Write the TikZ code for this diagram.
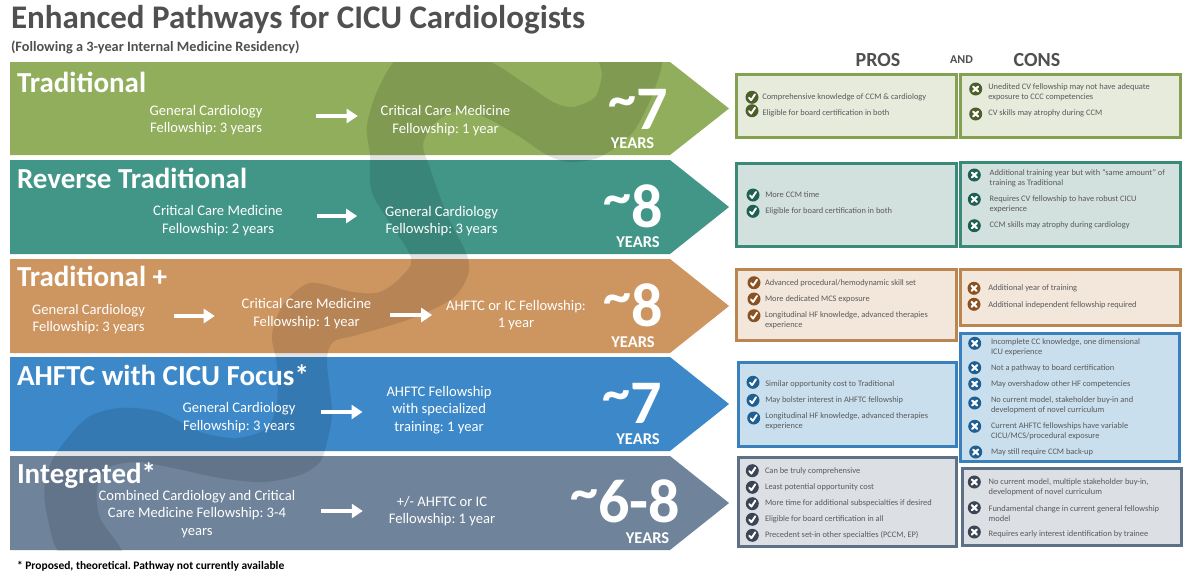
\documentclass[tikz,border=0pt]{standalone}
\usepackage{fontspec}
\setmainfont{Carlito}
\usetikzlibrary{arrows.meta}
\frenchspacing
\definecolor{gA}{HTML}{90AE5B}\definecolor{tA}{HTML}{429688}\definecolor{oA}{HTML}{CD9560}\definecolor{bA}{HTML}{3C88C8}\definecolor{sA}{HTML}{6F839A}
\definecolor{gF}{HTML}{E6EBDC}\definecolor{tF}{HTML}{D2E1DE}\definecolor{oF}{HTML}{F3E7DC}\definecolor{bF}{HTML}{C9DFEE}\definecolor{sF}{HTML}{DCDFE3}
\definecolor{gB}{HTML}{84A152}\definecolor{tB}{HTML}{3A8A7A}\definecolor{oB}{HTML}{BA8650}\definecolor{bB}{HTML}{3A80BB}\definecolor{sB}{HTML}{5E7085}
\definecolor{gD}{HTML}{4C5F2A}\definecolor{tD}{HTML}{1F6055}\definecolor{oD}{HTML}{8A5222}\definecolor{bD}{HTML}{1F5F92}\definecolor{sD}{HTML}{3A4655}
\definecolor{ink}{HTML}{505050}\definecolor{small}{HTML}{5A5A5A}
\newcommand{\tld}{\raisebox{11.5pt}{\fontsize{56}{56}\selectfont\char`~}}
\tikzset{
 x=1pt,y=-1pt,
 every node/.style={inner sep=0pt,outer sep=0pt},
 bandtitle/.style={anchor=base west,text=white,font=\bfseries\fontsize{29}{30}\selectfont},
 stage/.style={text=white,align=center,font=\fontsize{14.6}{17.6}\selectfont},
 big/.style={anchor=base east,text=white,font=\bfseries\fontsize{62}{62}\selectfont},
 yrs/.style={text=white,font=\bfseries\fontsize{16.5}{16.5}\selectfont},
 flow/.style={draw=white,line width=3.6pt,-{Triangle[width=14pt,length=11pt]}},
 box/.style={line width=3pt},
 item/.style={anchor=west,align=left,text=small,font=\fontsize{8.4}{10}\selectfont},
 head/.style={text=ink,font=\bfseries\fontsize{20}{20}\selectfont},
 yes/.pic={\fill[#1] (0,0) circle (6.5);
   \draw[white,line width=1.9pt,line cap=round,line join=round] (-3,0.4) -- (-0.9,2.9) -- (3,-3);},
 no/.pic={\fill[#1] (0,0) circle (6.5);
   \draw[white,line width=2.1pt,line cap=round] (-2.5,-2.5) -- (2.5,2.5) (-2.5,2.5) -- (2.5,-2.5);},
}
\newcommand{\chev}[3]{\fill[#3] (10,#1) -- (670,#1) -- (729,{(#1+#2)/2}) -- (670,#2) -- (10,#2) -- cycle;}
\begin{document}
\begin{tikzpicture}
\useasboundingbox (0,0) rectangle (1200,571);
\fill[white] (0,0) rectangle (1200,571);
\node[anchor=base west,text=ink,font=\bfseries\fontsize{33}{35}\selectfont] (title) at (11,28) {Enhanced Pathways for CICU Cardiologists};
\node[anchor=base west,text=ink,font=\bfseries\fontsize{14.3}{16}\selectfont] (sub) at (11,51) {(Following a 3-year Internal Medicine Residency)};
\chev{62}{155}{gA}\chev{160}{254}{tA}\chev{259}{353}{oA}\chev{357}{451}{bA}\chev{456}{550}{sA}
\begin{scope}
\clip (10,62) rectangle (670,550);
\fill[black,opacity=0.11] plot[smooth cycle,tension=0.5] coordinates {
 (405,55) (480,58) (527,85) (553,102) (573,107) (595,97) (602,75) (602,55) (659,55) (655,88) (633,132) (600,157)
 (570,162) (547,155) (517,135) (480,115) (453,112) (433,125) (423,145) (430,168) (447,215) (467,255) (468,275)
 (453,298) (413,318) (357,335) (333,342) (327,362) (332,412) (327,442) (320,462) (300,475) (263,482) (220,478)
 (173,468) (137,462) (107,468) (97,488) (100,518) (122,556) (63,556) (47,515) (45,482) (57,452) (87,418) (120,408)
 (160,412) (200,432) (237,438) (267,428) (277,402) (277,365) (272,335) (283,305) (310,283) (353,292) (380,292)
 (403,275) (410,255) (373,195) (370,155) (367,125) (380,85)};
\end{scope}
% Traditional
\node[bandtitle] (t1) at (17,92) {Traditional};
\node[stage] (a1) at (206,120) {General Cardiology\\Fellowship: 3 years};
\node[stage] (b1) at (445.5,120.5) {Critical Care Medicine\\Fellowship: 1 year};
\draw[flow,shorten <=54pt,shorten >=23pt] ([yshift=4pt]a1.east) -- ([yshift=4pt]a1.east -| b1.west);
\node[big] (n1) at (668,129) {\tld 7};
\node[yrs] (y1) at (632.5,143.5) {YEARS};
% Reverse
\node[bandtitle] (t2) at (17,188) {Reverse Traditional};
\node[stage] (a2) at (218,220.5) {Critical Care Medicine\\Fellowship: 2 years};
\node[stage] (b2) at (441.5,221) {General Cardiology\\Fellowship: 3 years};
\draw[flow,shorten <=34pt,shorten >=28pt] ([yshift=4.5pt]a2.east) -- ([yshift=4.5pt]a2.east -| b2.west);
\node[big] (n2) at (663,227) {\tld 8};
\node[yrs] (y2) at (638,242) {YEARS};
% Traditional +
\node[bandtitle] (t3) at (17,286) {Traditional +};
\node[stage] (a3) at (88.5,319) {General Cardiology\\Fellowship: 3 years};
\node[stage] (b3) at (306.5,313.5) {Critical Care Medicine\\Fellowship: 1 year};
\node[stage] (c3) at (516,315) {AHFTC or IC Fellowship:\\1 year};
\draw[flow,shorten <=29pt,shorten >=27pt] ([yshift=3pt]a3.east) -- ([yshift=3pt]a3.east -| b3.west);
\draw[flow,shorten <=19pt,shorten >=14pt] (b3.east |- c3.center) -- (c3.west);
\node[big] (n3) at (663,326) {\tld 8};
\node[yrs] (y3) at (633,342) {YEARS};
% AHFTC
\node[bandtitle] (t4) at (17,385) {AHFTC with CICU Focus*};
\node[stage] (a4) at (239,417.5) {General Cardiology\\Fellowship: 3 years};
\node[stage] (b4) at (439,410) {AHFTC Fellowship\\with specialized\\training: 1 year};
\draw[flow,shorten <=26pt,shorten >=24pt] (a4.east |- 0,412) -- (b4.west |- 0,412);
\node[big] (n4) at (662,423) {\tld 7};
\node[yrs] (y4) at (638,439) {YEARS};
% Integrated
\node[bandtitle] (t5) at (17,483) {Integrated*};
\node[stage] (a5) at (197,513.7) {Combined Cardiology and Critical\\Care Medicine Fellowship: 3-4\\years};
\node[stage] (b5) at (442,511) {+/- AHFTC or IC\\Fellowship: 1 year};
\draw[flow,shorten <=26pt,shorten >=26pt] (a5.east |- b5.center) -- (b5.west);
\node[big] (n5) at (680,522) {\tld 6-8};
\node[yrs] (y5) at (647.5,537.7) {YEARS};
\node[anchor=west,text=black,font=\bfseries\fontsize{11.5}{12}\selectfont] (foot) at (17,566) {* Proposed, theoretical. Pathway not currently available};
% Heads
\node[head] (pros) at (878,60) {PROS};
\node[text=ink,font=\bfseries\fontsize{12}{12}\selectfont] (and) at (961.5,60) {AND};
\node[head] (cons) at (1037,60) {CONS};
% Boxes
\draw[box,draw=gB,fill=gF] (736,74) rectangle (956,137.5);
\draw[box,draw=gB,fill=gF] (960,74) rectangle (1180,137.5);
\draw[box,draw=tB,fill=tF] (736,163) rectangle (956,246);
\draw[box,draw=tB,fill=tF] (960,162) rectangle (1180,246);
\draw[box,draw=oB,fill=oF] (736,269) rectangle (956,340);
\draw[box,draw=oB,fill=oF] (960,269) rectangle (1180,325);
\draw[box,draw=bB,fill=bF] (738,362) rectangle (956,446);
\draw[box,draw=bB,fill=bF] (960,333) rectangle (1179,461);
\draw[box,draw=sB,fill=sF] (738,457) rectangle (956,546);
\draw[box,draw=sB,fill=sF] (962,468) rectangle (1181,545);
% green
\pic at (752,97.3) {yes=gD};\node[item] (p11) at (762.3,97.7) {Comprehensive knowledge of CCM \& cardiology};
\pic at (752,110.7) {yes=gD};\node[item] (p12) at (762.5,113) {Eligible for board certification in both};
\pic at (975.7,89) {no=gD};\node[item] (c11) at (988.3,92.5) {Unedited CV fellowship may not have adequate\\exposure to CCC competencies};
\pic at (975.7,114) {no=gD};\node[item] (c12) at (988.3,113.3) {CV skills may atrophy during CCM};
% teal
\pic at (753,195) {yes=tD};\node[item] (p21) at (765.3,195) {More CCM time};
\pic at (753,211.3) {yes=tD};\node[item] (p22) at (765.3,211.3) {Eligible for board certification in both};
\pic at (974.3,175) {no=tD};\node[item] (c21) at (989.7,178.3) {Additional training year but with “same amount” of\\training as Traditional};
\pic at (974.3,199.3) {no=tD};\node[item] (c22) at (989.7,204) {Requires CV fellowship to have robust CICU\\experience};
\pic at (974.3,225.7) {no=tD};\node[item] (c23) at (989.7,225.3) {CCM skills may atrophy during cardiology};
% orange
\pic at (754,282.7) {yes=oD};\node[item] (p31) at (765,283.3) {Advanced procedural/hemodynamic skill set};
\pic at (754,299) {yes=oD};\node[item] (p32) at (765,299.7) {More dedicated MCS exposure};
\pic at (754,315.7) {yes=oD};\node[item] (p33) at (765,320.7) {Longitudinal HF knowledge, advanced therapies\\experience};
\pic at (974,288.3) {no=oD};\node[item] (c31) at (988.3,288.7) {Additional year of training};
\pic at (974,304.3) {no=oD};\node[item] (c32) at (988.3,305) {Additional independent fellowship required};
% blue
\pic at (753,382.3) {yes=bD};\node[item] (p41) at (765.3,384) {Similar opportunity cost to Traditional};
\pic at (753,400.3) {yes=bD};\node[item] (p42) at (765.3,400.3) {May bolster interest in AHFTC fellowship};
\pic at (753.7,418) {yes=bD};\node[item] (p43) at (765.3,421.7) {Longitudinal HF knowledge, advanced therapies\\experience};
\pic at (974.7,343.3) {no=bD};\node[item] (c41) at (991,347.3) {Incomplete CC knowledge, one dimensional\\ICU experience};
\pic at (974.7,367.7) {no=bD};\node[item] (c42) at (991,368.3) {Not a pathway to board certification};
\pic at (974.7,384) {no=bD};\node[item] (c43) at (991,384.3) {May overshadow other HF competencies};
\pic at (974.7,403) {no=bD};\node[item] (c44) at (991,405.7) {No current model, stakeholder buy-in and\\development of novel curriculum};
\pic at (974.7,426.3) {no=bD};\node[item] (c45) at (991,431.7) {Current AHFTC fellowships have variable\\CICU/MCS/procedural exposure};
\pic at (975.7,452) {no=bD};\node[item] (c46) at (991,452.7) {May still require CCM back-up};
% slate
\pic at (752.3,470.7) {yes=sD};\node[item] (p51) at (765,471) {Can be truly comprehensive};
\pic at (752.3,487.3) {yes=sD};\node[item] (p52) at (765,487) {Least potential opportunity cost};
\pic at (752.3,503.7) {yes=sD};\node[item] (p53) at (765,503.3) {More time for additional subspecialties if desired};
\pic at (752.3,519.3) {yes=sD};\node[item] (p54) at (765,519.3) {Eligible for board certification in all};
\pic at (752.3,535.3) {yes=sD};\node[item] (p55) at (765,535.3) {Precedent set-in other specialties (PCCM, EP)};
\pic at (974.3,482) {no=sD};\node[item] (c51) at (988.7,487.3) {No current model, multiple stakeholder buy-in,\\development of novel curriculum};
\pic at (974.3,507.7) {no=sD};\node[item] (c52) at (988.7,513.3) {Fundamental change in current general fellowship\\model};
\pic at (974.3,532) {no=sD};\node[item] (c53) at (988.7,534.3) {Requires early interest identification by trainee};
\end{tikzpicture}
\end{document}
